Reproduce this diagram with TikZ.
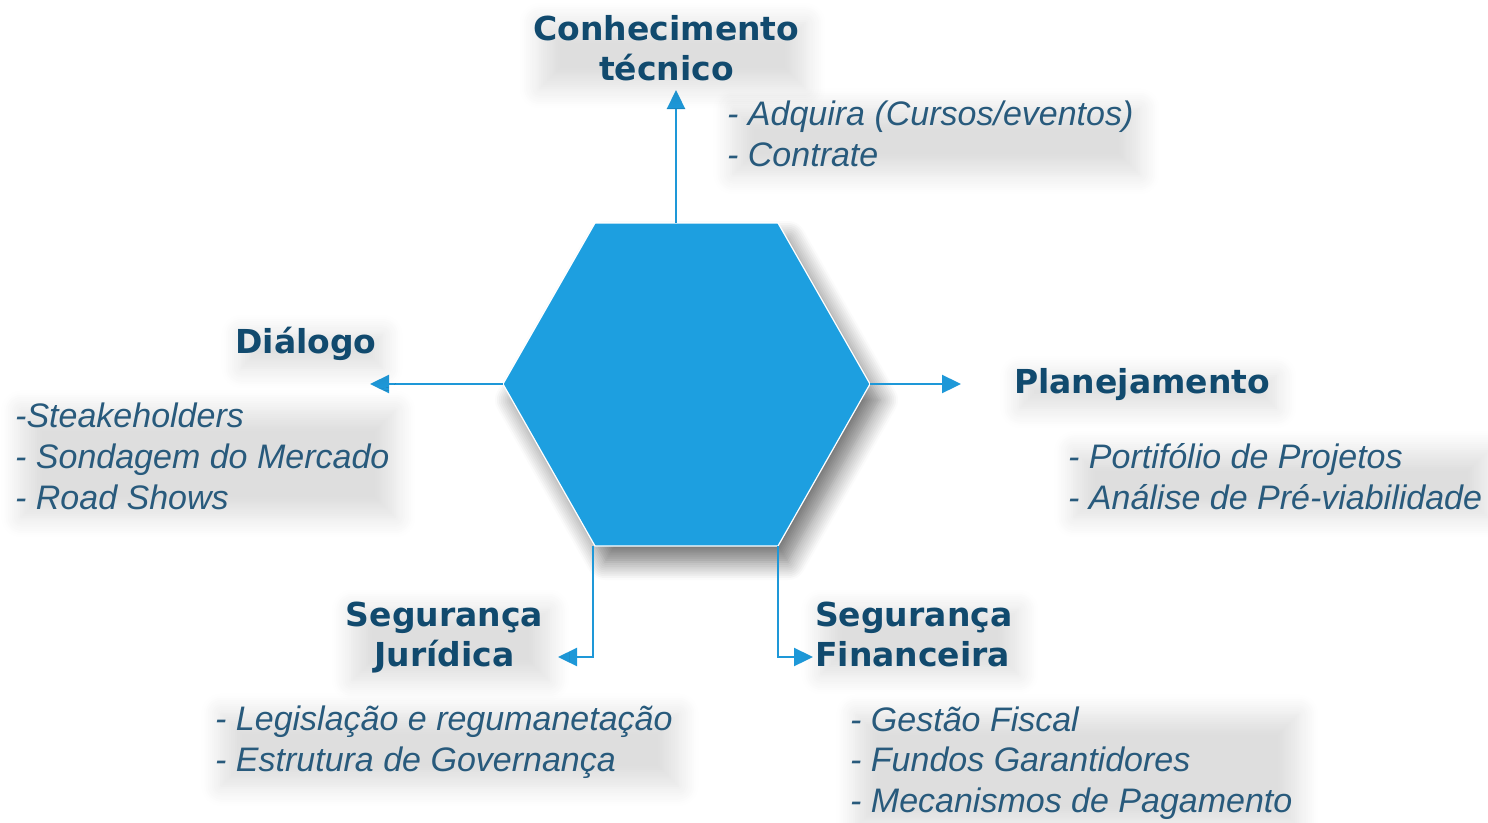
\documentclass[tikz,border=0pt]{standalone}
\usepackage{fontspec}
\setmainfont{Liberation Sans}
\newfontfamily\headfamily{DejaVu Sans}
\usetikzlibrary{arrows.meta,shadows.blur}
\definecolor{hexblue}{RGB}{29,159,224}
\definecolor{arrowblue}{RGB}{30,152,216}
\definecolor{headblue}{RGB}{17,74,110}
\definecolor{itemblue}{RGB}{40,90,124}
\tikzset{
  heading/.style={font=\headfamily\bfseries\fontsize{33}{40}\selectfont, text=headblue, inner sep=0pt, align=center, haze},
  items/.style={font=\itshape\fontsize{34}{41}\selectfont, text=itemblue, inner sep=0pt, align=left, anchor=base west, haze},
  link/.style={draw=arrowblue, line width=2.3pt, -{Triangle[length=19pt,width=18pt]}},
  haze/.style={blur shadow={shadow xshift=6pt, shadow yshift=-8pt, shadow blur radius=20pt, shadow opacity=13, shadow blur steps=10}},
  hexstyle/.style={fill=hexblue, draw=white, line width=1.2pt, blur shadow={shadow xshift=10pt, shadow yshift=-16pt, shadow blur radius=18pt, shadow opacity=55, shadow blur steps=10}},
}
\begin{document}
\begin{tikzpicture}[x=1pt,y=-1pt]
\useasboundingbox (0,0) rectangle (1488,822);
% hexagon corners
\coordinate (hTL) at (595,223);
\coordinate (hTR) at (778,223);
\coordinate (hR) at (870,384);
\coordinate (hBR) at (778,546);
\coordinate (hBL) at (595,546);
\coordinate (hL) at (503,384);
\path[hexstyle] (hTL) -- (hTR) -- (hR) -- (hBR) -- (hBL) -- (hL) -- cycle;
% arrow anchors
\coordinate (topStart) at (676,223);
\coordinate (topEnd) at (676,90);
\coordinate (leftEnd) at (370,384);
\coordinate (rightEnd) at (961,384);
\coordinate (blStart) at (593,546);
\coordinate (blEnd) at (558,657);
\coordinate (brStart) at (778,546);
\coordinate (brEnd) at (813,657);
\draw[link] (topStart) -- (topEnd);
\draw[link] (hL) -- (leftEnd);
\draw[link] (hR) -- (rightEnd);
\draw[link] (blStart) |- (blEnd);
\draw[link] (brStart) |- (brEnd);
% texts (base anchor = baseline of last line)
\node[heading, anchor=base] (conh) at (666.5,80) {Conhecimento\\técnico};
\node[items] (conhItems) at (727,166) {- Adquira (Cursos/eventos)\\- Contrate};
\node[heading, anchor=base] (dlg) at (306,353) {Diálogo};
\node[items] (dlgItems) at (15,509) {-Steakeholders\\- Sondagem do Mercado\\- Road Shows};
\node[heading, anchor=base west] (plan) at (1014,393) {Planejamento};
\node[items] (planItems) at (1068,509) {- Portifólio de Projetos\\- Análise de Pré-viabilidade};
\node[heading, anchor=base] (segj) at (444.5,666) {Segurança\\Jurídica};
\node[items] (segjItems) at (215,771) {- Legislação e regumanetação\\- Estrutura de Governança};
\node[heading, anchor=base west, align=left] (segf) at (815,666) {Segurança\\Financeira};
\node[items, font=\itshape\fontsize{34}{40.5}\selectfont] (segfItems) at (850,812) {- Gestão Fiscal\\- Fundos Garantidores\\- Mecanismos de Pagamento};
\end{tikzpicture}
\end{document}
